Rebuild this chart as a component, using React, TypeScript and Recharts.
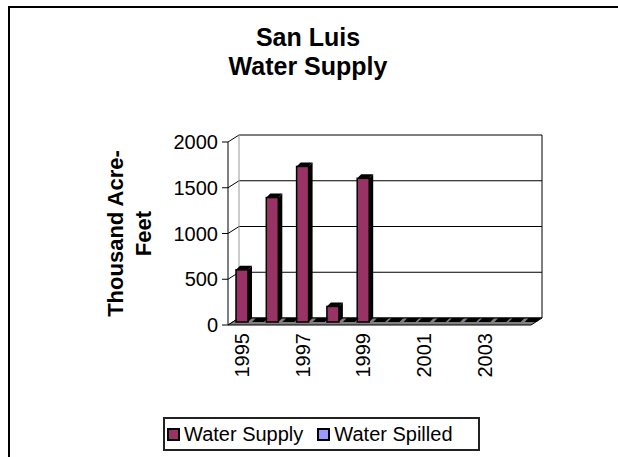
import React from 'react'
import { BarChart, Bar, XAxis, YAxis, CartesianGrid, ReferenceArea } from 'recharts'

const years = ['1995', '1996', '1997', '1998', '1999', '2000', '2001', '2002', '2003', '2004']
const waterSupply = [570, 1360, 1700, 170, 1570, 0, 0, 0, 0, 0]
const waterSpilled = [0, 0, 0, 0, 0, 0, 0, 0, 0, 0]
const yTicks = [0, 500, 1000, 1500, 2000]
const titleLines = ['San Luis', 'Water Supply']
const yLabelLines = ['Thousand Acre-', 'Feet']

const series = [
  { key: 'supply', name: 'Water Supply', color: '#993366' },
  { key: 'spilled', name: 'Water Spilled', color: '#9999FF' },
]

const chartData = years.map((year, i) => ({
  year,
  supply: waterSupply[i],
  spilled: waterSpilled[i],
}))

const FONT = '"Liberation Sans", Arial, sans-serif'
// fake 3d depth of the back wall and of the bars
const DX = 11
const DY = 7
const SX = 7
const SY = -3
const BD = 4

function Walls(props: any) {
  const { x, y, width, height } = props
  const b = y + height
  return (
    <g>
      <polygon
        points={`${x},${b} ${x + DX},${b - DY} ${x + width + DX},${b - DY} ${x + width},${b}`}
        fill="#808080"
        stroke="#000"
        strokeWidth={1}
      />
      <line x1={x + DX} y1={y - DY} x2={x + DX} y2={b - DY} stroke="#999" strokeWidth={1} />
      <line x1={x + width + DX} y1={y - DY} x2={x + width + DX} y2={b - DY} stroke="#000" strokeWidth={1} />
    </g>
  )
}

function GridLine(props: any) {
  const { x1, y1, x2, y2 } = props
  return (
    <g>
      <line x1={x1} y1={y1} x2={x1 + DX} y2={y1 - DY} stroke="#000" strokeWidth={1} />
      <line x1={x1 + DX} y1={y1 - DY} x2={x2 + DX} y2={y2 - DY} stroke="#000" strokeWidth={1} />
    </g>
  )
}

function Bar3D(props: any) {
  const { x, y, width, height, fill } = props
  if (x == null || y == null) return null
  const bx = x + SX
  const by = y + SY
  const w = width
  if (!height || height < 0.5) {
    return (
      <polygon
        points={`${bx},${by} ${bx + BD},${by - BD} ${bx + w + BD},${by - BD} ${bx + w},${by}`}
        fill="#000"
      />
    )
  }
  const bb = by + height
  return (
    <g>
      <polygon
        points={`${bx + w},${by} ${bx + w + BD},${by - BD} ${bx + w + BD},${bb - BD} ${bx + w},${bb}`}
        fill="#000"
      />
      <polygon
        points={`${bx},${by} ${bx + BD},${by - BD} ${bx + w + BD},${by - BD} ${bx + w},${by}`}
        fill="#000"
      />
      <rect x={bx} y={by} width={w} height={height} fill={fill} stroke="#000" strokeWidth={1.5} />
    </g>
  )
}

function XTick(props: any) {
  const { x, y, payload } = props
  return (
    <text
      transform={`translate(${x - 1},${y}) rotate(-90)`}
      textAnchor="end"
      dominantBaseline="central"
      fontSize={20}
      fontFamily={FONT}
      fill="#000"
    >
      {payload.value}
    </text>
  )
}

function YLabel(props: any) {
  const { viewBox } = props
  const cy = viewBox.y + viewBox.height / 2
  const xs = [115, 143]
  return (
    <g>
      {yLabelLines.map((line, i) => (
        <text
          key={line}
          transform={`translate(${xs[i]},${cy}) rotate(-90)`}
          textAnchor="middle"
          dominantBaseline="central"
          fontSize={22}
          fontWeight="bold"
          fontFamily={FONT}
          fill="#000"
        >
          {line}
        </text>
      ))}
    </g>
  )
}

export default function App() {
  return (
    <div
      style={{
        position: 'fixed',
        left: 0,
        top: 0,
        width: 618,
        height: 457,
        overflow: 'hidden',
        background: '#fff',
        fontFamily: FONT,
      }}
    >
      <div
        style={{
          position: 'absolute',
          left: 8,
          top: 6,
          width: 800,
          height: 700,
          border: '2px solid #000',
        }}
      />
      <div
        style={{
          position: 'absolute',
          left: 108,
          top: 23,
          width: 400,
          textAlign: 'center',
          fontSize: 25,
          lineHeight: '29px',
          fontWeight: 'bold',
          color: '#000',
        }}
      >
        {titleLines.map((t) => (
          <div key={t}>{t}</div>
        ))}
      </div>

      <div style={{ position: 'absolute', left: 0, top: 0 }}>
        <BarChart
          width={618}
          height={457}
          data={chartData}
          margin={{ top: 142, right: 87, bottom: 72, left: 0 }}
          barSize={12}
          barGap={4}
        >
          <ReferenceArea y1={0} y2={2000} shape={<Walls />} ifOverflow="visible" />
          <CartesianGrid vertical={false} horizontal={(p: any) => <GridLine key={p.key} {...p} />} />
          <XAxis
            dataKey="year"
            height={60}
            interval={1}
            tickLine={false}
            axisLine={false}
            tick={<XTick />}
          />
          <YAxis
            width={228}
            domain={[0, 2000]}
            ticks={yTicks}
            tickSize={6}
            tickMargin={4}
            tick={{ fontSize: 20, fill: '#000', fontFamily: FONT }}
            axisLine={{ stroke: '#000' }}
            tickLine={{ stroke: '#000' }}
            label={{ content: <YLabel /> }}
          />
          {series.map((s) => (
            <Bar
              key={s.key}
              dataKey={s.key}
              name={s.name}
              fill={s.color}
              shape={<Bar3D />}
              isAnimationActive={false}
            />
          ))}
        </BarChart>
      </div>

      <div
        style={{
          position: 'absolute',
          left: 163,
          top: 417,
          width: 313,
          height: 30,
          border: '2px solid #222',
          display: 'flex',
          alignItems: 'center',
          fontSize: 20,
          color: '#000',
          whiteSpace: 'nowrap',
        }}
      >
        {series.map((s, i) => (
          <div key={s.key} style={{ display: 'flex', alignItems: 'center', marginLeft: i === 0 ? 2 : 14 }}>
            <span
              style={{
                display: 'inline-block',
                width: 9,
                height: 9,
                background: s.color,
                border: '2px solid #000',
                marginRight: 4,
              }}
            />
            <span>{s.name}</span>
          </div>
        ))}
      </div>
    </div>
  )
}
